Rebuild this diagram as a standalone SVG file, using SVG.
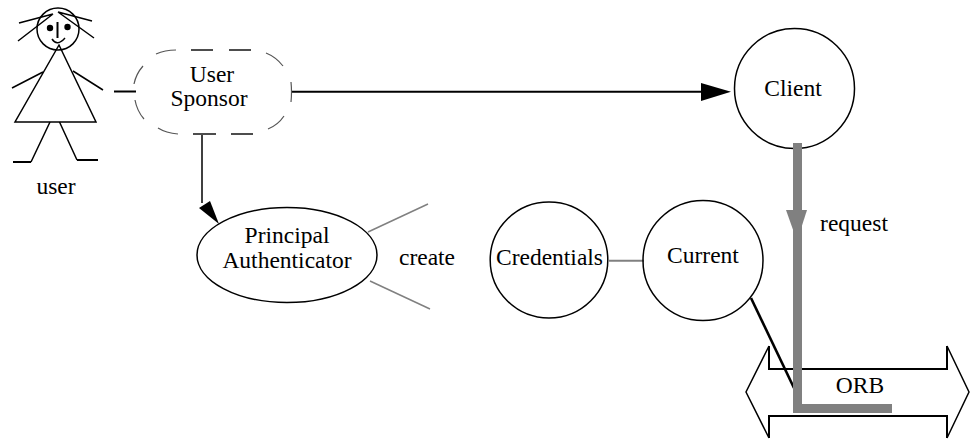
<svg xmlns="http://www.w3.org/2000/svg" width="972" height="439" viewBox="0 0 972 439">
<style>
.l{fill:none;stroke:#000;stroke-width:1.5}
.t{fill:none;stroke:#000;stroke-width:2}
.g{fill:none;stroke:#808080;stroke-width:1.5}
.d{fill:none;stroke:#4d4d4d;stroke-width:2}
.a{fill:none;stroke:#555;stroke-width:1.2}
text{font-family:"Liberation Serif","Times New Roman",serif;font-size:23.5px;text-anchor:middle;fill:#000}
</style>
<rect width="972" height="439" fill="#fff"/>
<g id="connectors">
<path class="t" d="M114 91.500H136"/>
<path class="t" d="M292 91.800H702"/>
<polygon points="701,83 701,101 731,91.800"/>
<path class="l" d="M202 134V203"/>
<polygon points="199,208 210,201 219,224"/>
<path class="g" d="M368 232L428 204"/>
<path class="g" d="M370 281L430 309"/>
<path class="g" style="stroke-width:2" d="M609 260.700H644"/>
<path class="t" style="stroke-width:2.600" d="M751 298L794 388"/>
</g>
<g id="user">
<circle class="l" cx="58" cy="29" r="21"/>
<path class="l" d="M19 23L53 14M18 41L53 14M58 12L92 21M58 12L94 38"/>
<circle cx="50" cy="28" r="3.200"/><circle cx="67.500" cy="27" r="3.200"/>
<path class="t" d="M57.500 22V38"/>
<path class="l" d="M52 39Q57 47 65 38"/>
<path class="l" d="M59 45L15 122H96Z"/>
<path class="l" d="M43 72L12 88M73 71L103 90"/>
<path class="l" d="M50 122L31 162M59.500 122L77 160"/>
<path class="t" d="M13 162H31M77 160H98"/>
<text x="56" y="194">user</text>
</g>
<g id="user-sponsor">
<path class="d" d="M191 50H213M229 50H251M193 134H216M231 134H253"/>
<path class="a" d="M156 54Q165 50 176 50M134 84Q136 74 143 66M135 100Q137 111 144 119M158 128Q166 133 178 134M268 129Q278 125 284 116M291 82Q292 92 291 102M266 53Q276 57 283 66"/>
<text x="212" y="82">User</text>
<text x="209" y="106">Sponsor</text>
</g>
<g id="client">
<circle class="l" cx="794.500" cy="88.500" r="60"/>
<text x="793" y="96">Client</text>
</g>
<g id="principal-authenticator">
<ellipse class="l" cx="287" cy="255" rx="90" ry="47.500"/>
<text x="287" y="243">Principal</text>
<text x="287" y="268">Authenticator</text>
</g>
<g id="create"><text x="427" y="265">create</text></g>
<g id="credentials">
<ellipse class="l" cx="549" cy="260" rx="58.800" ry="58"/>
<text x="549.500" y="265">Credentials</text>
</g>
<g id="current">
<circle class="l" cx="703" cy="260.500" r="60"/>
<text x="703" y="263">Current</text>
</g>
<g id="orb">
<path class="l" d="M769 346L746 392L769 438M947 438L969 392L947 346"/>
<path class="t" d="M769 346V369H947V346M769 438V416H947V438"/>
<text x="860" y="393">ORB</text>
</g>
<g id="request">
<path d="M797.500 143V408.500H892" fill="none" stroke="#808080" stroke-width="9"/>
<polygon points="786,210 807,210 797,241" fill="#808080"/>
<text x="854" y="231">request</text>
</g>
</svg>
